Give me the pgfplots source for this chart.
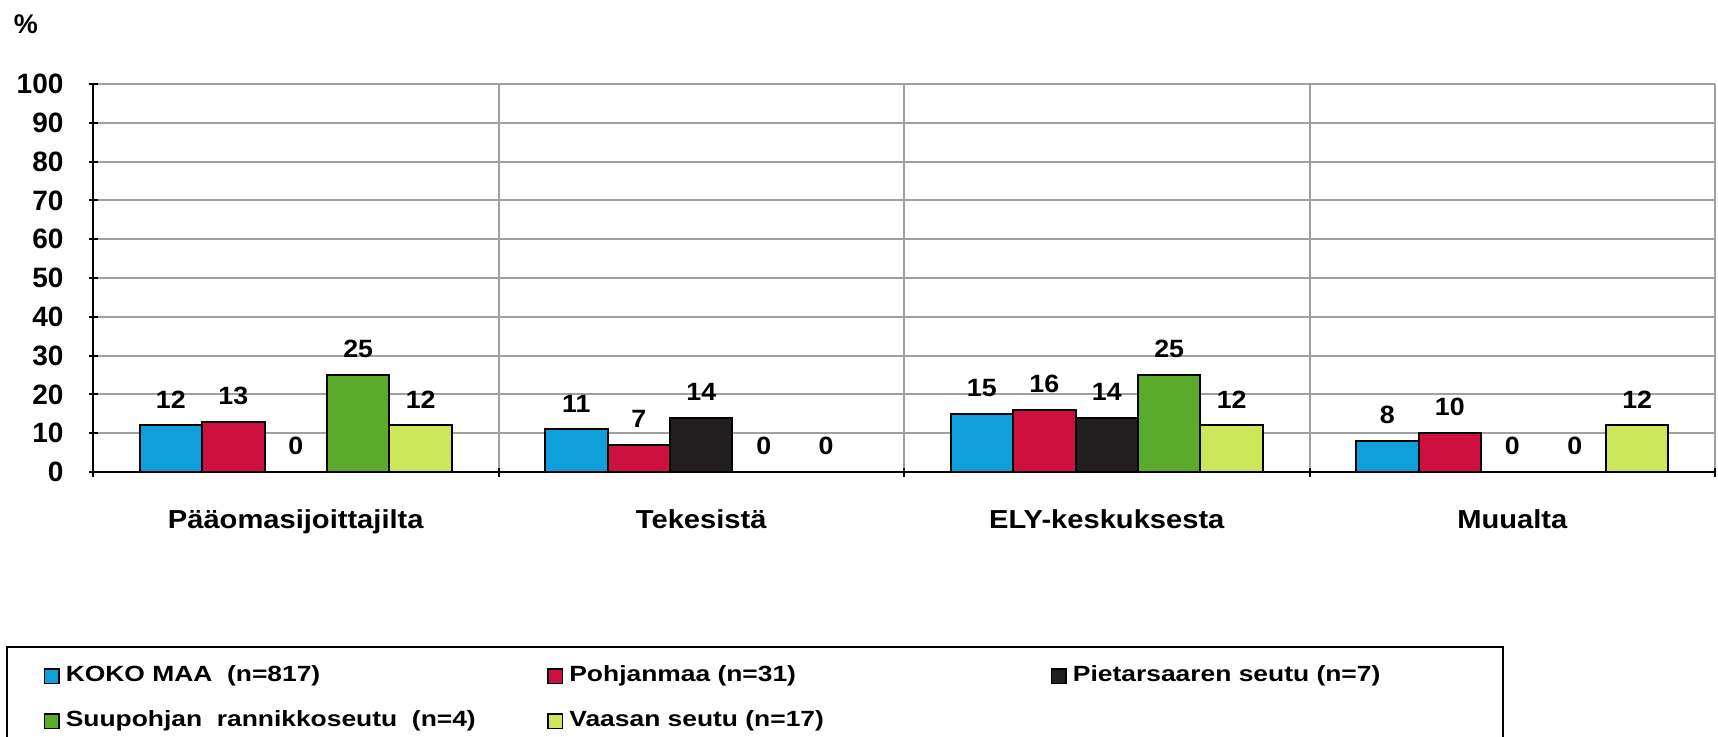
\documentclass[border=0pt]{standalone}
\usepackage{fontspec}
\setmainfont{Liberation Sans}
\newfontfamily\legendfont{Liberation Sans}[FakeStretch=1.2]
\newfontfamily\catfont{Liberation Sans}[FakeStretch=1.12]
\newfontfamily\labfont{Liberation Sans}[FakeStretch=1.07]
\usepackage{pgfplots}
\pgfplotsset{compat=1.18}
\definecolor{cBlue}{RGB}{15,160,219}
\definecolor{cRed}{RGB}{205,16,64}
\definecolor{cDark}{RGB}{35,31,32}
\definecolor{cGreen}{RGB}{90,170,44}
\definecolor{cYellow}{RGB}{204,232,90}
\definecolor{gridgray}{RGB}{160,160,160}
\begin{document}
\begin{tikzpicture}
\begin{axis}[
  at={(46.5pt,132pt)}, anchor=south west,
  scale only axis, width=811pt, height=194pt,
  ybar=0pt, bar width=0.154,
  xmin=-0.5, xmax=3.5, ymin=0, ymax=100,
  xtick={-0.5,0.5,1.5,2.5,3.5},
  x tick label as interval=true,
  xticklabels={Pääomasijoittajilta,Tekesistä,ELY-keskuksesta,Muualta},
  ytick={0,10,...,100},
  tick align=outside, major tick length=4.5pt,
  tick style={black, line width=1pt},
  xmajorgrids=true, ymajorgrids=true,
  grid style={gridgray, line width=1pt},
  axis x line=bottom, axis y line=left,
  axis line style={-, line width=1pt, black},
  /pgf/number format/assume math mode=true,
  yticklabel style={font=\bfseries\fontsize{14}{16}\selectfont, xshift=-9pt},
  xticklabel style={font=\catfont\bfseries\fontsize{13}{16}\selectfont, anchor=base, yshift=-26pt},
  nodes near coords,
  every node near coord/.append style={font=\labfont\bfseries\fontsize{12.5}{15}\selectfont, yshift=4.8pt, black},
  legend image code/.code={\draw[#1, line width=0.8pt] (0pt,-3.6pt) rectangle (7.3pt,3.6pt);},
  legend columns=3,
  legend cell align=left,
  legend style={at={(-0.0539,-0.448)}, anchor=north west, draw=black, line width=1pt,
    inner xsep=18.5pt, inner ysep=9.5pt, row sep=12pt,
    nodes={inner sep=0pt, text height=8pt, text depth=2.5pt, font=\legendfont\bfseries\fontsize{11}{13}\selectfont},
    /tikz/every odd column/.append style={column sep=3pt}},
]
\addplot[fill=cBlue, draw=black, line width=1pt] coordinates {(0,12) (1,11) (2,15) (3,8)};
\addlegendentry{\makebox[240.7pt][l]{KOKO MAA \ (n=817)}}
\addplot[fill=cRed, draw=black, line width=1pt] coordinates {(0,13) (1,7) (2,16) (3,10)};
\addlegendentry{\makebox[240.7pt][l]{Pohjanmaa (n=31)}}
\addplot[fill=cDark, draw=black, line width=1pt] coordinates {(0,0) (1,14) (2,14) (3,0)};
\addlegendentry{\makebox[196.7pt][l]{Pietarsaaren seutu (n=7)}}
\addplot[fill=cGreen, draw=black, line width=1pt] coordinates {(0,25) (1,0) (2,25) (3,0)};
\addlegendentry{\makebox[240.7pt][l]{Suupohjan \ rannikkoseutu \ (n=4)}}
\addplot[fill=cYellow, draw=black, line width=1pt] coordinates {(0,12) (1,0) (2,12) (3,12)};
\addlegendentry{\makebox[240.7pt][l]{Vaasan seutu (n=17)}}
\end{axis}
\node[font=\bfseries\fontsize{13.5}{16}\selectfont] at (13pt,356pt) {\%};
\pgfresetboundingbox
\useasboundingbox (0,0) rectangle (859pt,368pt);
\end{tikzpicture}
\end{document}
